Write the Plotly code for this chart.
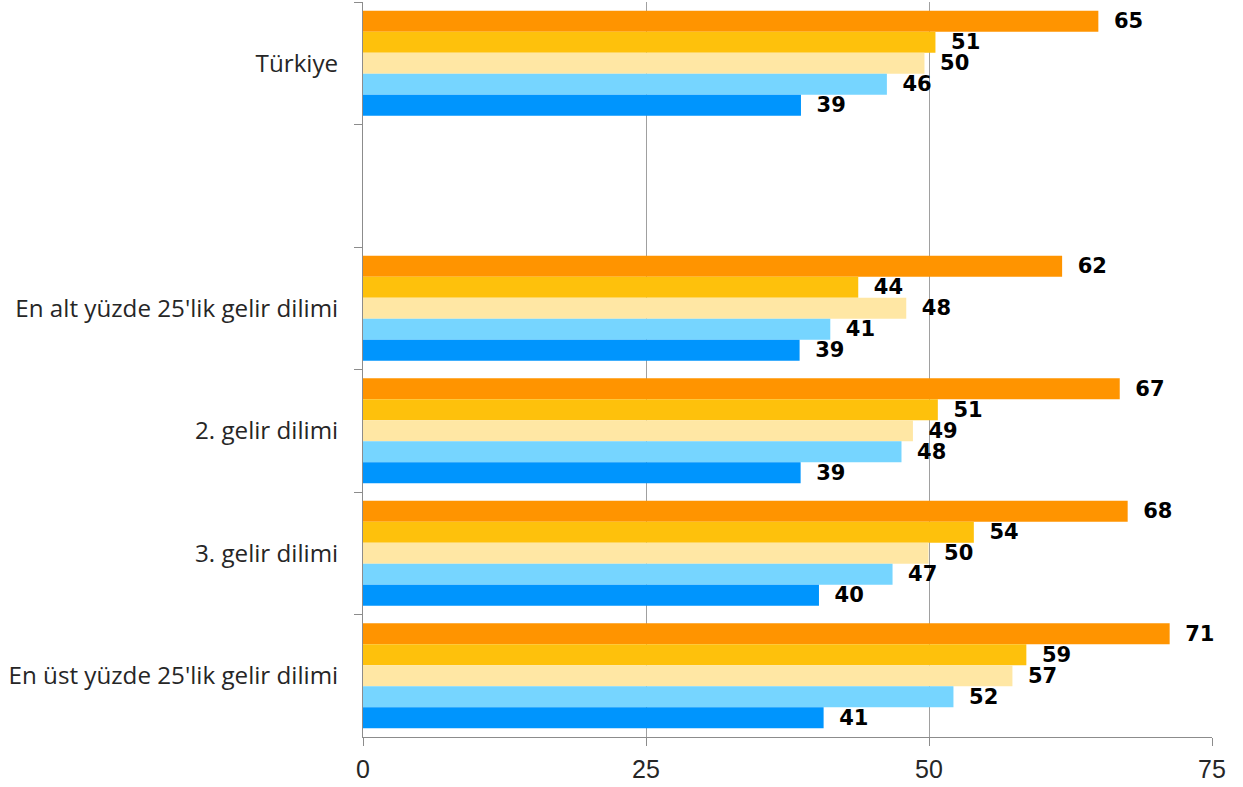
import plotly.graph_objects as go

categories = ["Türkiye", " ", "En alt yüzde 25'lik gelir dilimi", "2. gelir dilimi",
              "3. gelir dilimi", "En üst yüzde 25'lik gelir dilimi"]

s1 = [64.96, None, 61.76, 66.85, 67.55, 71.26]   # dark orange
s2 = [50.57, None, 43.75, 50.78, 53.96, 58.6]    # gold
s3 = [49.6, None, 47.99, 48.58, 49.96, 57.37]    # light yellow
s4 = [46.28, None, 41.28, 47.57, 46.78, 52.16]   # light blue
s5 = [38.69, None, 38.57, 38.66, 40.28, 40.69]   # blue

series = [s1, s2, s3, s4, s5]
colors = ["#FF9400", "#FEC10C", "#FFE7A4", "#76D5FF", "#0095FD"]

x_ticks = [0, 25, 50, 75]

fig = go.Figure()
for vals, col in zip(series, colors):
    fig.add_trace(go.Bar(
        y=categories, x=vals, orientation="h",
        marker=dict(color=col, line=dict(width=0)),
        texttemplate="\u00a0\u2005%{x:.0f}",
        textposition="outside",
        constraintext="none",
        cliponaxis=False,
        textfont=dict(family="DejaVu Sans", size=21, color="#000000", weight="bold"),
        showlegend=False,
        hoverinfo="skip",
    ))

fig.update_layout(
    width=1243, height=787,
    margin=dict(l=363, r=31, t=2, b=50),
    paper_bgcolor="white", plot_bgcolor="white",
    barmode="group", bargap=0.144, bargroupgap=0,
)
fig.update_yaxes(
    type="category", categoryorder="array", categoryarray=categories,
    autorange="reversed", automargin=False,
    tickson="boundaries", ticks="outside", ticklen=8, tickcolor="#8C8C8C", tickwidth=1,
    showline=True, linecolor="#8C8C8C", linewidth=1,
    showgrid=False,
    tickfont=dict(family="Open Sans", size=24.2, color="#262626"),
    ticklabelstandoff=19,
)
fig.update_xaxes(
    range=[0, 75], tickvals=x_ticks, ticktext=[str(v) for v in x_ticks],
    automargin=False,
    showgrid=True, gridcolor="#A0A0A0", gridwidth=1,
    showline=True, linecolor="#8C8C8C", linewidth=1,
    ticks="outside", ticklen=8, tickcolor="#8C8C8C",
    tickfont=dict(family="Liberation Sans", size=25, color="#262626"),
    ticklabelstandoff=2,
    zeroline=False,
)

fig.write_html("out.html", config={"displayModeBar": False},
               post_script="document.body.style.margin='0px';")
